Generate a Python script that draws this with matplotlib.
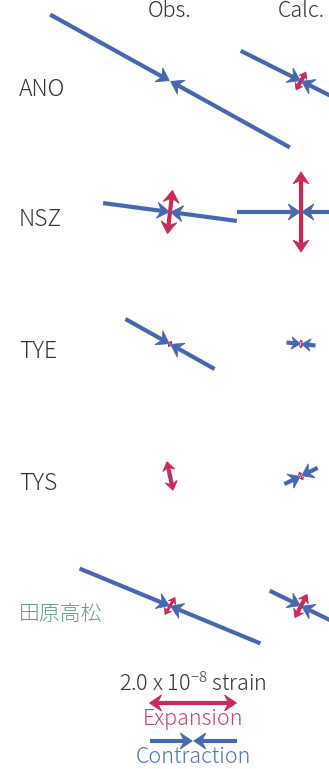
import numpy as np
import matplotlib
matplotlib.use("Agg")
import matplotlib.pyplot as plt

plt.rcParams['font.family'] = ['Noto Sans CJK JP', 'DejaVu Sans']

# ---- data (strain in units of 1e-8; angles in degrees, counter-clockwise from east) ----
stations = ["ANO", "NSZ", "TYE", "TYS", "田原高松"]
label_colors = ["#333333", "#333333", "#333333", "#333333", "#5e9e7e"]
label_sizes = [16.5, 16.5, 16.5, 16.5, 15.0]

obs_contraction = [6.3, 3.1, 2.35, 0.09, 4.5]
obs_contraction_angle = [-29.0, -7.6, -29.3, 10.0, -22.5]
obs_expansion = [0.0, 1.0, 0.14, 0.67, 0.45]
obs_expansion_angle = [61.0, 83.4, 60.7, 102.0, 59.5]

calc_contraction = [3.1, 2.95, 0.67, 0.85, 1.6]
calc_contraction_angle = [-26.6, 0.0, -6.0, 26.0, -26.0]
calc_expansion = [0.47, 1.84, 0.18, 0.2, 0.6]
calc_expansion_angle = [61.0, 90.0, 90.0, 116.0, 62.4]

column_titles = ["Obs.", "Calc."]
legend_value = 2.0
legend_label = r"2.0 x 10$^{\mathregular{-8}}$ strain"

# ---- layout ----
W, H = 329, 769
BLUE = "#4767b0"
RED = "#c92a58"
PX_PER_UNIT = 43.5  # total bar length in px per 1e-8 strain
col_x = [170, 301]
row_y = [H - 81, H - 212, H - 344, H - 476, H - 606]

fig = plt.figure(figsize=(W / 100, H / 100), dpi=100)
ax = fig.add_axes([0, 0, 1, 1])
ax.set_xlim(0, W)
ax.set_ylim(0, H)
ax.axis("off")


def head(tip, d, arm, color):
    """Stealth-style arrow head with tip at `tip`, pointing along unit vector d."""
    L = min(12.0, 0.6 * arm)
    hw = min(8.0, 0.42 * arm)
    notch = 0.35 * L
    n = np.array([-d[1], d[0]])
    pts = np.array([tip,
                    tip - d * L + n * hw,
                    tip - d * (L - notch),
                    tip - d * L - n * hw])
    ax.fill(pts[:, 0], pts[:, 1], color=color, lw=0.6, ec=color, zorder=3)
    return tip - d * (L - notch)


def shaft(p0, p1, color, arm):
    lw = 3.0 if arm > 10 else max(0.8, arm * 0.22)
    ax.plot([p0[0], p1[0]], [p0[1], p1[1]], color=color, lw=lw,
            solid_capstyle="butt", zorder=2)


def contraction(cx, cy, mag, ang):
    if mag <= 0:
        return
    arm = mag * PX_PER_UNIT / 2
    d = np.array([np.cos(np.radians(ang)), np.sin(np.radians(ang))])
    c = np.array([cx, cy])
    for s in (1, -1):
        end = c + s * d * arm
        tip = c + s * d * 0.8
        base = head(tip, -s * d, arm, BLUE)
        shaft(end, base, BLUE, arm)


def expansion(cx, cy, mag, ang):
    if mag <= 0:
        return
    arm = mag * PX_PER_UNIT / 2
    d = np.array([np.cos(np.radians(ang)), np.sin(np.radians(ang))])
    c = np.array([cx, cy])
    b1 = head(c + d * arm, d, arm, RED)
    b2 = head(c - d * arm, -d, arm, RED)
    shaft(b2, b1, RED, arm)


for i, name in enumerate(stations):
    y = row_y[i]
    ax.text(19, y - 8, name, fontsize=label_sizes[i], color=label_colors[i], ha="left",
            va="center", fontweight="light")
    contraction(col_x[0], y, obs_contraction[i], obs_contraction_angle[i])
    expansion(col_x[0], y, obs_expansion[i], obs_expansion_angle[i])
    contraction(col_x[1], y, calc_contraction[i], calc_contraction_angle[i])
    expansion(col_x[1], y, calc_expansion[i], calc_expansion_angle[i])

for x, t in zip(col_x, column_titles):
    ax.text(x, H - 11, t, fontsize=15.5, color="#333333", ha="center", va="center",
            fontweight="light")

# ---- legend ----
lx = 193
ax.text(lx, H - 684, legend_label, fontsize=15.5, color="#333333", ha="center",
        va="center", fontweight="light")
expansion(lx, H - 703, legend_value, 0)
ax.text(lx, H - 719, "Expansion", fontsize=15.5, color="#d0406a", ha="center",
        va="center", fontweight="light")
contraction(lx, H - 741, legend_value, 0)
ax.text(lx, H - 757, "Contraction", fontsize=15.5, color="#4f72b8", ha="center",
        va="center", fontweight="light")

fig.savefig("out.png", dpi=100)
